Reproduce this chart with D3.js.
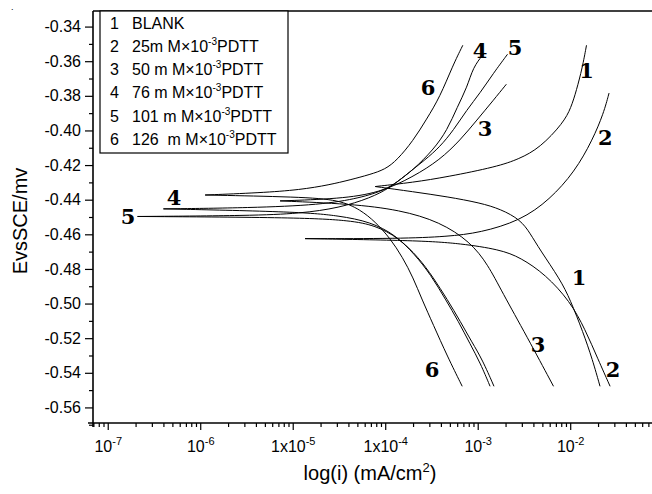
<!DOCTYPE html>
<html><head><meta charset="utf-8">
<script src="https://cdn.jsdelivr.net/npm/d3@7/dist/d3.min.js"></script>
<style>body{margin:0;background:#fff}svg{display:block}</style>
</head><body><svg id="c" width="652" height="494"></svg>
<script>
// ---- data (i in mA/cm2, E in V vs SCE) ----
const yTicks = [-0.34,-0.36,-0.38,-0.40,-0.42,-0.44,-0.46,-0.48,-0.50,-0.52,-0.54,-0.56];
const yMinorTicks = [-0.35,-0.37,-0.39,-0.41,-0.43,-0.45,-0.47,-0.49,-0.51,-0.53,-0.55,-0.57];
const xTicks = [1e-7,1e-6,1e-5,1e-4,1e-3,1e-2];
const xTickLabels = [["10","-7"],["10","-6"],["1x10","-5"],["1x10","-4"],["10","-3"],["10","-2"]];
const legendNums = ["1","2","3","4","5","6"];
const legendTexts = [["BLANK","",""],["25m M×10","-3","PDTT"],["50 m M×10","-3","PDTT"],["76 m M×10","-3","PDTT"],["101 m M×10","-3","PDTT"],["126  m M×10","-3","PDTT"]];

const anodic1 = [[7.8e-5,-0.4324],[2.0e-4,-0.4300],[4.7e-4,-0.4268],[1.6e-3,-0.4210],[2.8e-3,-0.4165],[4.7e-3,-0.4101],[8.4e-3,-0.3957],[1.02e-2,-0.3870],[1.17e-2,-0.3767],[1.35e-2,-0.3640],[1.5e-2,-0.3508]];
const cathodic1 = [[7.8e-5,-0.4324],[2.0e-4,-0.4354],[4.7e-4,-0.4383],[1.06e-3,-0.4418],[1.78e-3,-0.4455],[2.9e-3,-0.4516],[3.7e-3,-0.4595],[4.7e-3,-0.4689],[7.8e-3,-0.4861],[1.0e-2,-0.4977],[1.38e-2,-0.5167],[1.74e-2,-0.5323],[2.1e-2,-0.5478]];
const anodic2 = [[1.36e-5,-0.4625],[1.45e-4,-0.4625],[4.7e-4,-0.4613],[1.06e-3,-0.4591],[2.9e-3,-0.4521],[6.0e-3,-0.4400],[1.12e-2,-0.4238],[1.74e-2,-0.4056],[2.3e-2,-0.3900],[2.63e-2,-0.3784]];
const cathodic2 = [[1.36e-5,-0.4625],[2.4e-4,-0.4636],[6.5e-4,-0.4653],[1.74e-3,-0.4688],[2.9e-3,-0.4734],[5.4e-3,-0.4832],[1.0e-2,-0.4988],[1.45e-2,-0.5149],[2.0e-2,-0.5322],[2.7e-2,-0.5478]];
const anodic3 = [[7.3e-6,-0.4407],[3.2e-5,-0.4395],[8.7e-5,-0.4360],[2.0e-4,-0.4268],[3.9e-4,-0.4170],[6.5e-4,-0.4055],[9.8e-4,-0.3940],[1.48e-3,-0.3825],[2.04e-3,-0.3733]];
const cathodic3 = [[7.3e-6,-0.4407],[4.2e-5,-0.4424],[1.45e-4,-0.4459],[3.9e-4,-0.4528],[8.3e-4,-0.4643],[1.29e-3,-0.4775],[1.82e-3,-0.4930],[3.4e-3,-0.5190],[6.6e-3,-0.5478]];
const anodic4 = [[4.0e-7,-0.4453],[3.5e-6,-0.4447],[2.0e-5,-0.4430],[5.4e-5,-0.4390],[1.0e-4,-0.4343],[1.35e-4,-0.4297],[2.0e-4,-0.4228],[3.3e-4,-0.4113],[4.7e-4,-0.3997],[6.0e-4,-0.3865],[7.7e-4,-0.3750],[8.9e-4,-0.3635],[1.15e-3,-0.3560]];
const cathodic4 = [[4.0e-7,-0.4453],[1.2e-5,-0.4470],[3.2e-5,-0.4493],[6.9e-5,-0.4528],[1.29e-4,-0.4603],[2.1e-4,-0.4718],[3.1e-4,-0.4833],[4.5e-4,-0.4977],[6.2e-4,-0.5104],[8.3e-4,-0.5235],[1.07e-3,-0.5345],[1.36e-3,-0.5478]];
const anodic5 = [[2.1e-7,-0.4497],[3.5e-6,-0.4492],[1.2e-5,-0.4480],[3.2e-5,-0.4447],[6.9e-5,-0.4390],[1.12e-4,-0.4332],[1.62e-4,-0.4263],[2.7e-4,-0.4170],[3.9e-4,-0.4095],[5.5e-4,-0.3997],[7.6e-4,-0.3882],[1.06e-3,-0.3784],[1.48e-3,-0.3669],[2.1e-3,-0.3560]];
const cathodic5 = [[2.1e-7,-0.4497],[1.2e-5,-0.4503],[4.2e-5,-0.4520],[7.8e-5,-0.4549],[1.38e-4,-0.4618],[2.3e-4,-0.4734],[3.3e-4,-0.4849],[4.7e-4,-0.4977],[6.5e-4,-0.5104],[8.7e-4,-0.5225],[1.12e-3,-0.5323],[1.5e-3,-0.5478]];
const anodic6 = [[1.13e-6,-0.4373],[4.5e-6,-0.4360],[1.2e-5,-0.4343],[2.5e-5,-0.4314],[4.2e-5,-0.4285],[6.8e-5,-0.4255],[1.0e-4,-0.4225],[1.35e-4,-0.4170],[2.0e-4,-0.4060],[2.8e-4,-0.3935],[3.9e-4,-0.3807],[5.4e-4,-0.3623],[6.9e-4,-0.3508]];
const cathodic6 = [[1.13e-6,-0.4373],[1.2e-5,-0.4384],[3.2e-5,-0.4401],[5.4e-5,-0.4458],[7.8e-5,-0.4528],[1.12e-4,-0.4620],[1.55e-4,-0.4735],[2.0e-4,-0.4850],[2.5e-4,-0.4977],[3.3e-4,-0.5121],[4.7e-4,-0.5305],[6.8e-4,-0.5478]];

// curve number labels: [i, E, text]
const curveLabels = [[1.5e-2,-0.3652,"1"],[2.4e-2,-0.4038,"2"],[1.2e-3,-0.3986,"3"],[1.06e-3,-0.3537,"4"],[2.54e-3,-0.3519,"5"],[2.9e-4,-0.3750,"6"],
  [5.2e-7,-0.4389,"4"],[1.66e-7,-0.4498,"5"],[1.25e-2,-0.4850,"1"],[4.5e-3,-0.5235,"3"],[3.2e-4,-0.5379,"6"],[2.9e-2,-0.5379,"2"]];

// ---- layout ----
const svg = d3.select("#c");
const L = 93, T = 11, R = 660, B = 423;
const x = d3.scaleLog().domain([6.93e-8, 9.35e-2]).range([L, R]);
const y = d3.scaleLinear().domain([-0.569, -0.331]).range([B, T]);
const sans = "'Liberation Sans', Arial, Helvetica, sans-serif";

svg.append("defs").append("clipPath").attr("id","pc")
  .append("rect").attr("x",L).attr("y",T).attr("width",R-L).attr("height",B-T);

// curves
const line = d3.line().x(d=>x(d[0])).y(d=>y(d[1])).curve(d3.curveBasis);
const g = svg.append("g").attr("clip-path","url(#pc)");
[anodic1,cathodic1,anodic2,cathodic2,anodic3,cathodic3,anodic4,cathodic4,anodic5,cathodic5,anodic6,cathodic6].forEach(s=>{
  g.append("path").attr("d",line(s)).attr("fill","none").attr("stroke","#000").attr("stroke-width",1);
});

// axes
const allX = x.ticks();
const minorX = allX.filter(v => !xTicks.some(t => Math.abs(t - v) / t < 1e-6));
svg.append("g").attr("transform",`translate(0,${B})`)
  .call(d3.axisBottom(x).tickValues(minorX).tickSize(4).tickFormat("").tickSizeOuter(0))
  .call(a=>{a.select(".domain").remove(); a.selectAll("line").attr("stroke-width",1.2);});
const xa = svg.append("g").attr("transform",`translate(0,${B})`)
  .call(d3.axisBottom(x).tickValues(xTicks).tickSize(7).tickFormat("").tickSizeOuter(0));
xa.select(".domain").remove();
xa.selectAll("line").attr("stroke-width",1.2);
xa.selectAll(".tick").each(function(d,i){
  const t = d3.select(this).append("text").attr("y",29).attr("fill","#000")
    .attr("text-anchor","middle").style("font-family",sans).style("font-size","16px");
  t.append("tspan").text(xTickLabels[i][0]);
  t.append("tspan").attr("dy",-7).style("font-size","11px").text(xTickLabels[i][1]);
});
svg.append("g").attr("transform",`translate(${L},0)`)
  .call(d3.axisLeft(y).tickValues(yMinorTicks).tickSize(4).tickFormat("").tickSizeOuter(0))
  .call(a=>{a.select(".domain").remove(); a.selectAll("line").attr("stroke-width",1.2);});
const ya = svg.append("g").attr("transform",`translate(${L},0)`)
  .call(d3.axisLeft(y).tickValues(yTicks).tickSize(8).tickPadding(4).tickFormat(d=>d.toFixed(2)).tickSizeOuter(0));
ya.select(".domain").remove();
ya.selectAll("line").attr("stroke-width",1.2);
ya.selectAll("text").style("font-family",sans).style("font-size","16px").attr("fill","#000");

// frame lines
svg.append("line").attr("x1",L).attr("x2",L).attr("y1",T).attr("y2",B+4).attr("stroke","#000").attr("stroke-width",1.6);
svg.append("line").attr("x1",L-5).attr("x2",R).attr("y1",B).attr("y2",B).attr("stroke","#000").attr("stroke-width",1.6);
svg.append("line").attr("x1",L).attr("x2",R).attr("y1",T).attr("y2",T).attr("stroke","#000").attr("stroke-width",1.6);

// axis titles
const xt = svg.append("text").attr("x",370).attr("y",480).attr("text-anchor","middle")
  .style("font-family",sans).style("font-size","20px");
xt.append("tspan").text("log(i) (mA/cm");
xt.append("tspan").attr("dy",-8).style("font-size","13px").text("2");
xt.append("tspan").attr("dy",8).text(")");
svg.append("text").attr("transform","translate(27,221) rotate(-90)").attr("text-anchor","middle")
  .style("font-family",sans).style("font-size","20px").text("EvsSCE/mv");
svg.append("text").attr("x",11).attr("y",10).style("font-family",sans).style("font-size","9px").text(".");

// legend
svg.append("rect").attr("x",100).attr("y",T).attr("width",188).attr("height",142)
  .attr("fill","#fff").attr("stroke","#000").attr("stroke-width",1.2);
legendNums.forEach((n,i)=>{
  const yy = 28.5 + i*23.3;
  svg.append("text").attr("x",110).attr("y",yy).style("font-family",sans).style("font-size","16px").text(n);
  const t = svg.append("text").attr("x",132).attr("y",yy).attr("xml:space","preserve")
    .style("font-family",sans).style("font-size","16px").style("white-space","pre");
  t.append("tspan").text(legendTexts[i][0]);
  if (legendTexts[i][1]) {
    t.append("tspan").attr("dy",-7).style("font-size","10px").text(legendTexts[i][1]);
    t.append("tspan").attr("dy",7).text(legendTexts[i][2]);
  }
});

// curve labels
svg.selectAll(".cl").data(curveLabels).enter().append("text").attr("class","cl")
  .attr("x",d=>x(d[0])).attr("y",d=>y(d[1])).attr("dy","0.36em").attr("text-anchor","middle")
  .style("font-family","'DejaVu Serif', serif").style("font-weight","bold").style("font-size","21px")
  .text(d=>d[2]);
</script></body></html>
